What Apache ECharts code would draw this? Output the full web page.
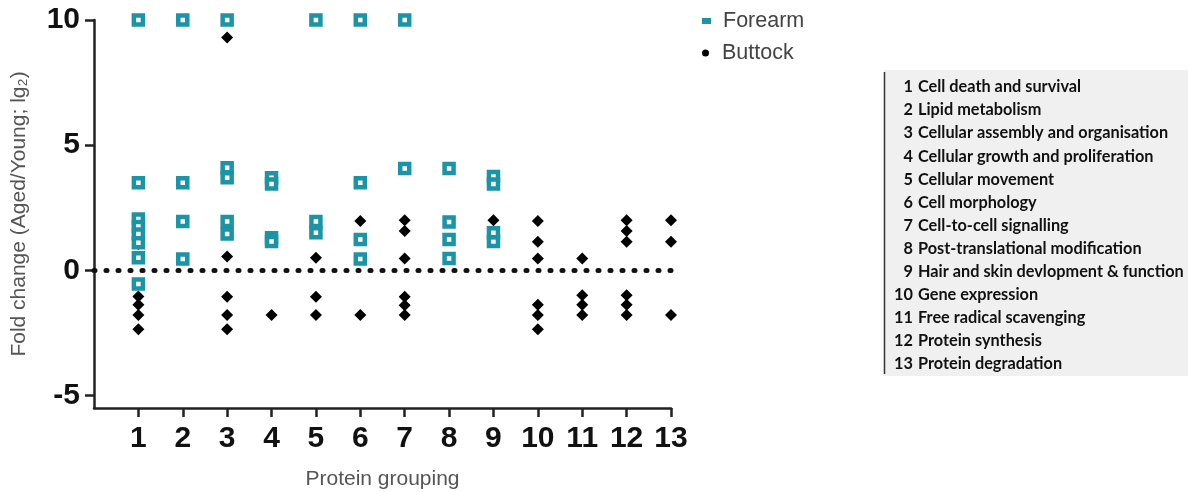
<!DOCTYPE html>
<html>
<head>
<meta charset="utf-8">
<script src="https://cdn.jsdelivr.net/npm/echarts@6/dist/echarts.min.js"></script>
<style>
html,body{margin:0;padding:0;background:#fff;}
#chart{width:1188px;height:492px;}
</style>
</head>
<body>
<div id="chart"></div>
<script>
// ---- data ----
const groupIds = [1,2,3,4,5,6,7,8,9,10,11,12,13];
const groupNames = [
  'Cell death and survival',
  'Lipid metabolism',
  'Cellular assembly and organisation',
  'Cellular growth and proliferation',
  'Cellular movement',
  'Cell morphology',
  'Cell-to-cell signalling',
  'Post-translational modification',
  'Hair and skin devlopment & function',
  'Gene expression',
  'Free radical scavenging',
  'Protein synthesis',
  'Protein degradation'
];
const yTicks = [-5, 0, 5, 10];
// Forearm: [group, fold change]
const forearm = [
  [1,10],[1,3.5],[1,2.05],[1,1.75],[1,1.45],[1,1.1],[1,0.5],[1,-0.55],
  [2,10],[2,3.5],[2,1.95],[2,0.45],
  [3,10],[3,4.1],[3,3.7],[3,1.95],[3,1.45],
  [4,3.7],[4,3.45],[4,1.3],[4,1.15],
  [5,10],[5,1.95],[5,1.5],
  [6,10],[6,3.5],[6,1.23],[6,0.45],
  [7,10],[7,4.07],
  [8,4.07],[8,1.93],[8,1.23],[8,0.47],
  [9,3.75],[9,3.45],[9,1.15],[9,1.5]
];
// Buttock: [group, fold change]
const buttock = [
  [1,1.05],[1,0.5],[1,-1.05],[1,-1.38],[1,-1.78],[1,-2.35],
  [2,0.45],
  [3,9.3],[3,1.95],[3,0.55],[3,-1.06],[3,-1.78],[3,-2.35],
  [4,-1.78],
  [5,1.95],[5,1.5],[5,0.5],[5,-1.06],[5,-1.78],
  [6,1.97],[6,0.45],[6,-1.78],
  [7,2.0],[7,1.57],[7,0.47],[7,-1.06],[7,-1.4],[7,-1.78],
  [9,2.0],
  [10,1.97],[10,1.14],[10,0.47],[10,-1.38],[10,-1.78],[10,-2.35],
  [11,0.47],[11,-1.0],[11,-1.38],[11,-1.78],
  [12,2.0],[12,1.57],[12,1.14],[12,-1.0],[12,-1.38],[12,-1.78],
  [13,2.0],[13,1.14],[13,-1.78]
];

const TEAL = '#1a94a6';
const chart = echarts.init(document.getElementById('chart'), null, {renderer:'canvas'});

const panelTexts = [];
groupNames.forEach((n, i) => {
  panelTexts.push({type:'text', x:913, y:87 + i*23.1,
    style:{text:String(groupIds[i]), font:'bold 16.3px Lato', fill:'#111', align:'right', verticalAlign:'middle'}});
  panelTexts.push({type:'text', x:918, y:87 + i*23.1,
    style:{text:n, font:'bold 16.3px Lato', fill:'#111', align:'left', verticalAlign:'middle'}});
});

const option = {
  backgroundColor:'#ffffff',
  animation:false,
  grid:{left:94, right:517, top:20, bottom:84, containLabel:false, outerBoundsMode:'none'},
  legend:[
    {data:[{name:'Forearm', icon:'path://M0,0L9,0L9,6L0,6Z', itemStyle:{color:TEAL, borderWidth:0}}],
     left:697, top:5, itemWidth:23, itemHeight:6,
     textStyle:{fontSize:21.5, color:'#444', fontFamily:'Liberation Sans'}},
    {data:[{name:'Buttock', icon:'circle', itemStyle:{color:'#000', borderWidth:0}}],
     left:697, top:37, itemWidth:23, itemHeight:7,
     textStyle:{fontSize:21.5, color:'#444', fontFamily:'Liberation Sans'}}
  ],
  xAxis:{
    type:'value', min:0, max:13,
    name:'Protein grouping', nameLocation:'middle', nameGap:61,
    nameTextStyle:{fontSize:21, color:'#555', fontFamily:'Liberation Sans'},
    axisLine:{show:true, onZero:false, lineStyle:{color:'#222', width:2.5}},
    axisTick:{show:true, length:9, lineStyle:{color:'#222', width:2.5}, customValues:groupIds},
    axisLabel:{customValues:groupIds, fontSize:30, fontWeight:'bold', color:'#111', margin:16, fontFamily:'Liberation Sans'},
    splitLine:{show:false}
  },
  yAxis:{
    type:'value', min:-5.5, max:10,
    name:'Fold change (Aged/Young; lg₂)', nameLocation:'middle', nameGap:64,
    nameTextStyle:{fontSize:21, color:'#555', fontFamily:'Liberation Sans'},
    axisLine:{show:true, onZero:false, lineStyle:{color:'#222', width:2.5}},
    axisTick:{show:true, length:9, lineStyle:{color:'#222', width:2.5}, customValues:yTicks},
    axisLabel:{customValues:yTicks, fontSize:30, fontWeight:'bold', color:'#111', margin:14, fontFamily:'Liberation Sans'},
    splitLine:{show:false}
  },
  series:[
    {
      name:'Buttock', type:'scatter', data:buttock, z:2,
      symbol:'diamond', symbolSize:[12,12],
      itemStyle:{color:'#000', opacity:1},
      markLine:{
        silent:true, symbol:['none','none'], label:{show:false},
        lineStyle:{color:'#111', width:5, type:[1,11], cap:'round', opacity:1},
        data:[{yAxis:0}]
      }
    },
    {
      name:'Forearm', type:'scatter', data:forearm, z:3,
      symbol:'rect', symbolSize:9,
      itemStyle:{color:'#ffffff', borderColor:TEAL, borderWidth:4.5, opacity:1}
    }
  ],
  graphic:[
    {type:'rect', shape:{x:884, y:70, width:304, height:306}, style:{fill:'#f0f0f0'}, z:-1},
    {type:'line', shape:{x1:884.5, y1:72, x2:884.5, y2:374}, style:{stroke:'#333', lineWidth:1.5}},
    ...panelTexts
  ]
};
chart.setOption(option);
</script>
</body>
</html>
